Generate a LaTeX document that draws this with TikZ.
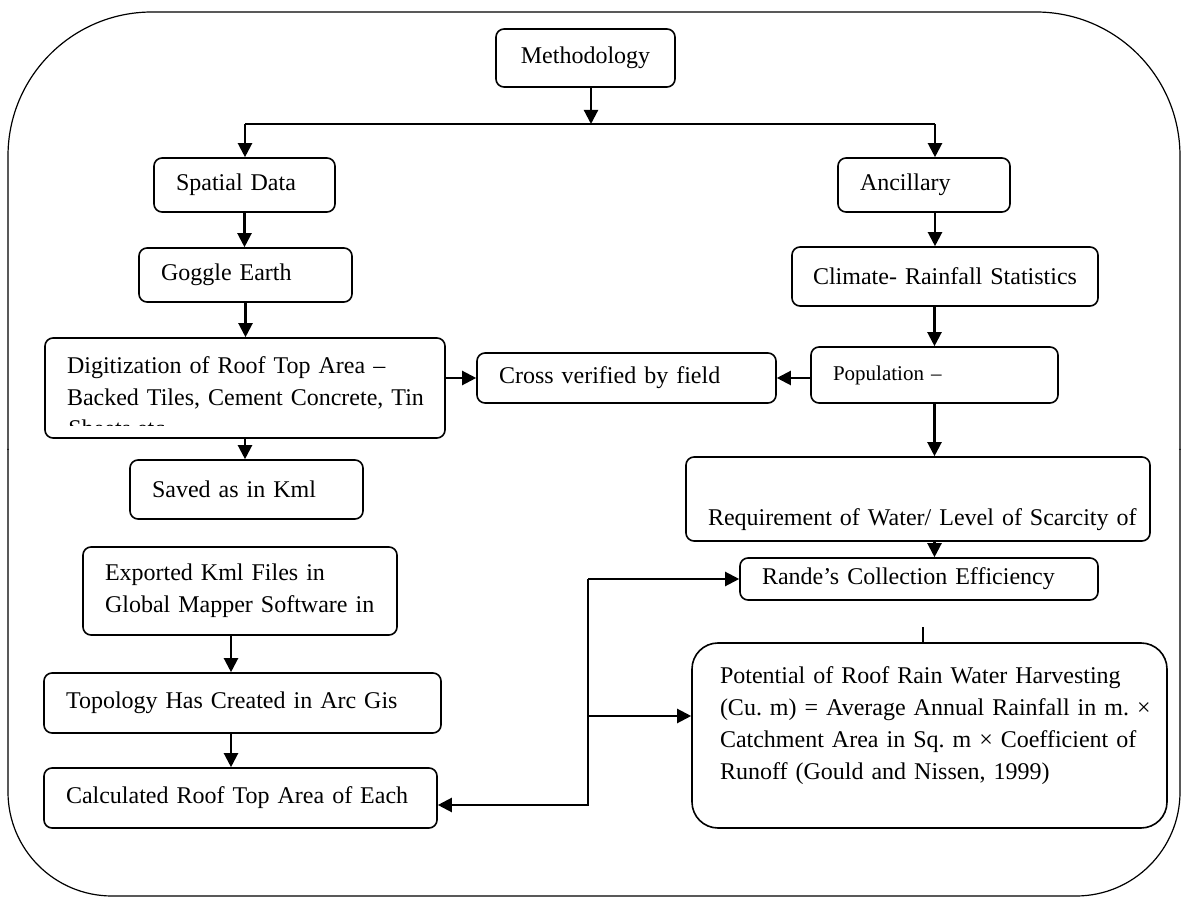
\documentclass[tikz,border=0pt]{standalone}
\usepackage{fontspec}
\setmainfont{Liberation Serif}
\usetikzlibrary{arrows.meta,positioning}
\tikzset{font=\fontsize{12}{16}\selectfont\frenchspacing}
\tikzset{stepbox/.style={draw, rounded corners=4pt, line width=0.8pt, align=left, inner xsep=11pt, inner ysep=2pt}}
\tikzset{arr/.style={-{Triangle[length=7pt,width=7pt]}, line width=1.1pt}}
\tikzset{wire/.style={line width=1.1pt}}

\begin{document}
\begin{tikzpicture}[x=0.5pt, y=-0.5pt]
\useasboundingbox (0,0) rectangle (1184,897);
% frame round everything
\draw[line width=0.6pt, rounded corners=72pt] (8,450) -- (8,12) -- (1180,12) -- (1180,450);
\draw[line width=0.6pt, rounded corners=52pt] (1180,449) -- (1180,896) -- (8,896) -- (8,449);

\node[stepbox, align=center, minimum height=29pt, text width=67.5pt] (meth) at (585.5,58) {Methodology};

% spatial side
\node[stepbox, minimum height=27pt, text width=68.5pt] (spatial) at (244.5,185) {Spatial Data};
\node[stepbox, minimum height=27pt, text width=84.5pt] (goggle) at (245.5,275) {Goggle Earth};
\node[stepbox, minimum height=50pt, text width=178pt, text height=8.5pt, text depth=23pt] (digit) at (245,388) {\mbox{Digitization of Roof Top Area --}\\\mbox{Backed Tiles, Cement Concrete, Tin}};
\begin{scope}
\clip (45,412) rectangle (445,426);
\node[anchor=base west, inner sep=0pt] (digitrest) at (68,437) {Sheets etc.};
\end{scope}
\node[stepbox, minimum height=29.5pt, text width=94.5pt] (saved) at (246.5,489.5) {Saved as in Kml};
\node[stepbox, minimum height=44pt, text width=135pt] (export) at (240,591) {Exported Kml Files in\\\mbox{Global Mapper Software in}};
\node[stepbox, minimum height=30pt, text width=176.5pt] (topo) at (242.5,703) {\mbox{Topology Has Created in Arc Gis}};
\node[stepbox, minimum height=30pt, text width=174.5pt] (calc) at (240.5,798) {\mbox{Calculated Roof Top Area of Each}};

\node[stepbox, minimum height=25pt, text width=127.5pt] (cross) at (626.5,378) {\mbox{Cross verified by field}};

% ancillary side
\node[stepbox, minimum height=27pt, text width=64pt] (anc) at (924,185) {Ancillary};
\node[stepbox, align=center, inner xsep=8pt, minimum height=29.5pt, text width=137pt] (clim) at (945,276.5) {\mbox{Climate- Rainfall Statistics}};
\node[stepbox, minimum height=28pt, text width=101.5pt, font=\fontsize{10.5}{14}\selectfont] (pop) at (934.5,375) {Population --};
\node[stepbox, minimum height=42pt, text width=210pt, text height=30pt, text depth=3pt] (req) at (918,499) {\mbox{Requirement of Water/ Level of Scarcity of}};
\node[stepbox, minimum height=21pt, text width=157pt] (rande) at (919,579) {\mbox{Rande’s Collection Efficiency}};
\node[stepbox, rounded corners=13pt, inner xsep=14pt, minimum height=92.5pt, text width=209.5pt, text height=8.5pt, text depth=60pt] (pot) at (929.5,735.5) {\mbox{Potential of Roof Rain Water Harvesting}\\\mbox{(Cu. m) = Average Annual Rainfall in m. ×}\\\mbox{Catchment Area in Sq. m × Coefficient of}\\\mbox{Runoff (Gould and Nissen, 1999)}};

\coordinate (split) at (591,124);
\coordinate (spl) at (245,124);
\coordinate (spr) at (935,124);
\coordinate (lowcol) at (231,600);
\coordinate (bus) at (588,579);
\coordinate (calcin) at ([yshift=-3.5pt]calc.east);
\coordinate (potin) at ([yshift=9.75pt]pot.west);

\draw[arr] (meth.south -| split) -- (split);
\draw[wire] (spl) -- (spr);
\draw[arr] (spl) -- (spl |- spatial.north);
\draw[arr] (spr) -- (spr |- anc.north);
\draw[arr] (spatial.south) -- (spatial.south |- goggle.north);
\draw[arr] (goggle.south) -- (goggle.south |- digit.north);
\draw[arr] (digit.south) -- (digit.south |- saved.north);
\draw[arr] (export.south -| lowcol) -- (topo.north -| lowcol);
\draw[arr] (topo.south -| lowcol) -- (calc.north -| lowcol);
\draw[arr] (digit.east |- cross.west) -- (cross.west);
\draw[arr] (pop.west |- cross.east) -- (cross.east);
\draw[arr] (anc.south -| spr) -- (clim.north -| spr);
\draw[arr] (clim.south -| pop.north) -- (pop.north);
\draw[arr] (pop.south) -- (pop.south |- req.north);
\draw[arr] (pop.south |- req.south) -- (pop.south |- rande.north);
\draw[arr] (bus) -- (rande.west |- bus);
\draw[arr] (bus |- potin) -- (potin);
\draw[arr] (bus) -- (bus |- calcin) -- (calcin);
\draw[wire] ([xshift=-3.25pt]pot.north) -- ++(0,-15);

\end{tikzpicture}
\end{document}
